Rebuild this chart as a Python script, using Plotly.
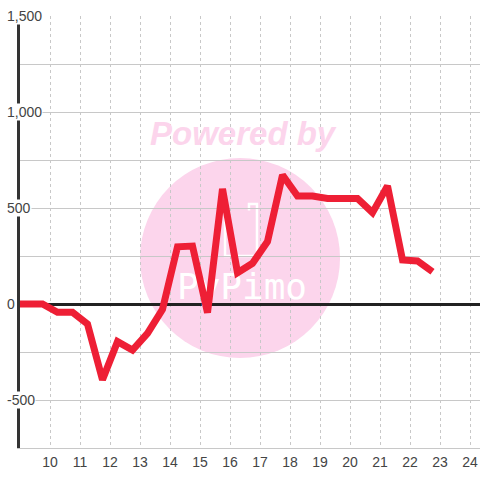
import plotly.graph_objects as go

# ---- data ----
hours = [9.0, 9.75, 10.25, 10.75, 11.25, 11.75, 12.25, 12.75, 13.25, 13.75,
         14.25, 14.75, 15.25, 15.75, 16.25, 16.75, 17.25, 17.75, 18.25, 18.75,
         19.25, 19.75, 20.25, 20.75, 21.25, 21.75, 22.25, 22.75]
values = [0, 0, -43, -43, -104, -395, -196, -240, -153, -28,
          298, 302, -45, 600, 163, 212, 325, 672, 562, 562,
          550, 550, 550, 476, 615, 229, 224, 168]
x_ticks = list(range(10, 25))
y_label_vals = [1500, 1000, 500, 0, -500]
y_label_text = ["1,500", "1,000", "500", "0", "-500"]

X_RANGE = [9, 24.3333]
Y_RANGE = [-750, 1500]

FONT = "Liberation Sans, Arial, sans-serif"
PINK = "#fcd5ec"
RED = "#ee1f35"

fig = go.Figure()

# watermark logo text (drawn under the data line)
cx = X_RANGE[0] + 0.4826 * (X_RANGE[1] - X_RANGE[0])
cy = Y_RANGE[0] + 0.366 * (Y_RANGE[1] - Y_RANGE[0])
fig.add_trace(go.Scatter(
    x=[cx], y=[cy], mode="text", text=["PyPimo"],
    textfont=dict(family="DejaVu Sans Mono, monospace", size=36, color="white"),
    hoverinfo="skip", showlegend=False))

fig.add_trace(go.Scatter(
    x=hours, y=values, mode="lines",
    line=dict(color=RED, width=7),
    showlegend=False))

# pink circle watermark
fig.add_shape(type="circle", xref="paper", yref="paper",
              x0=0.2609, x1=0.6957, y0=0.2083, y1=0.6713,
              fillcolor=PINK, line=dict(width=0), layer="below")
# cup icon outline
fig.add_shape(type="path", xref="paper", yref="paper",
              path="M 0.4457 0.5556 L 0.4457 0.4444 L 0.5152 0.4444 L 0.5152 0.5648 L 0.4978 0.5648 L 0.4978 0.5500",
              line=dict(color="white", width=2.5), layer="below")

fig.add_annotation(text="Powered by", xref="paper", yref="paper",
                   x=0.4848, y=0.729, xanchor="center", yanchor="middle",
                   showarrow=False,
                   font=dict(family=FONT, size=33, color=PINK,
                             weight="bold", style="italic"))

for v, t in zip(y_label_vals, y_label_text):
    fig.add_annotation(text=t, xref="paper", yref="y", x=-0.0304, y=v,
                       xanchor="left", yanchor="middle", showarrow=False,
                       bgcolor="white", borderpad=0,
                       font=dict(family=FONT, size=14, color="#444444"))

fig.update_layout(
    width=480, height=480,
    margin=dict(l=20, r=0, t=16, b=32),
    paper_bgcolor="white", plot_bgcolor="white",
    font=dict(family=FONT, size=14, color="#444444"),
    showlegend=False,
)
fig.update_xaxes(
    range=X_RANGE, tickvals=x_ticks, ticks="",
    showgrid=True, gridcolor="#c8c8c8", gridwidth=1, griddash="dot",
    showline=True, linecolor="#c8c8c8", linewidth=1,
    zeroline=False, tickfont=dict(size=14, color="#444444"),
    ticklabelstandoff=1, automargin=False, ticklabeloverflow="allow",
)
fig.update_yaxes(
    range=Y_RANGE, dtick=250, tick0=0, showticklabels=False, ticks="",
    showgrid=True, gridcolor="#c8c8c8", gridwidth=1,
    showline=True, linecolor="#333333", linewidth=3,
    zeroline=True, zerolinecolor="#222222", zerolinewidth=3,
    automargin=False,
)

fig.write_html(
    "out.html",
    config={"displayModeBar": False},
    post_script="document.body.style.margin='0';document.body.style.overflow='hidden';",
)
